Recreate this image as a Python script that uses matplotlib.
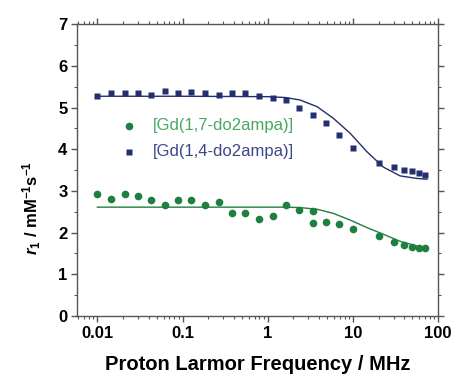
import matplotlib.pyplot as plt
import matplotlib.ticker as ticker

plt.rcParams['font.family'] = ['Liberation Sans', 'DejaVu Sans']
plt.rcParams['mathtext.fontset'] = 'custom'
plt.rcParams['mathtext.rm'] = 'Liberation Sans:bold'
plt.rcParams['mathtext.bf'] = 'Liberation Sans:bold'
plt.rcParams['mathtext.it'] = 'Liberation Sans:italic:bold'

# measured points (MHz)
freq = [0.01, 0.0146, 0.021, 0.030, 0.043, 0.062, 0.088, 0.127, 0.182, 0.265,
        0.38, 0.54, 0.80, 1.14, 1.63, 2.36, 3.39, 4.85, 6.95, 10.1,
        20, 30, 40, 50, 60, 70]

r1_14 = [5.28, 5.36, 5.35, 5.35, 5.29, 5.40, 5.35, 5.38, 5.35, 5.30,
         5.35, 5.34, 5.27, 5.24, 5.18, 4.99, 4.82, 4.64, 4.33, 4.04,
         3.66, 3.57, 3.50, 3.48, 3.44, 3.37]

freq_17 = [0.01, 0.0146, 0.021, 0.030, 0.043, 0.062, 0.088, 0.127, 0.182, 0.265,
           0.38, 0.54, 0.80, 1.14, 1.63, 2.36, 3.39, 3.39, 4.85, 6.95, 10.1,
           20, 30, 40, 50, 60, 70]
r1_17 = [2.92, 2.81, 2.93, 2.87, 2.78, 2.65, 2.79, 2.79, 2.65, 2.73,
         2.48, 2.46, 2.33, 2.40, 2.65, 2.55, 2.51, 2.23, 2.25, 2.21, 2.08,
         1.92, 1.78, 1.71, 1.65, 1.64, 1.62]

# fitted curves
fit_f = [0.01, 0.1, 1.0, 1.6, 2.4, 3.8, 5.9, 9.3, 14.6, 22.8, 35.8, 56, 74]
fit_14 = [5.27, 5.27, 5.26, 5.24, 5.18, 5.02, 4.74, 4.38, 3.94, 3.57, 3.36, 3.30, 3.28]
fit_17 = [2.61, 2.61, 2.61, 2.61, 2.60, 2.56, 2.46, 2.30, 2.12, 1.96, 1.79, 1.68, 1.64]

labels = ['[Gd(1,7-do2ampa)]', '[Gd(1,4-do2ampa)]']

green = '#1f7f3f'
blue = '#232f6e'

fig = plt.figure(figsize=(4.54, 3.83), dpi=100)
ax = fig.add_axes([0.170, 0.175, 0.795, 0.762])

ax.plot(fit_f, fit_17, color=green, lw=1.0)
ax.plot(fit_f, fit_14, color=blue, lw=1.0)
ax.plot(freq_17, r1_17, 'o', color=green, ms=5.5, mec='none')
ax.plot(freq, r1_14, 's', color=blue, ms=4.5, mec='none')

ax.set_xscale('log')
ax.set_xlim(0.0058, 100)
ax.set_ylim(0, 7)
ax.xaxis.set_major_formatter(ticker.FuncFormatter(lambda v, p: '%g' % v))
ax.yaxis.set_major_locator(ticker.MultipleLocator(1))
ax.yaxis.set_minor_locator(ticker.MultipleLocator(0.5))
ax.xaxis.set_minor_locator(ticker.LogLocator(subs=range(2, 10)))
ax.xaxis.set_minor_formatter(ticker.NullFormatter())

for s in ax.spines.values():
    s.set_color('#555555')
    s.set_linewidth(1.0)
ax.tick_params(which='both', color='#555555', labelsize=12, top=True, right=True, pad=3)
ax.tick_params(which='major', length=4, width=1)
ax.tick_params(which='minor', length=2.5, width=0.8)
for lab in ax.get_xticklabels() + ax.get_yticklabels():
    lab.set_fontweight('bold')

ax.set_xlabel('Proton Larmor Frequency / MHz', fontsize=14.5, fontweight='bold', labelpad=10)
ax.set_ylabel(r'$\mathit{r}_{1}$ / mM$^{-1}$s$^{-1}$', fontsize=12, fontweight='bold')
ax.yaxis.set_label_coords(-0.095, 0.37)

# legend drawn as in the original (markers + colored text)
ax.plot([0.0237], [4.56], 'o', color=green, ms=5.5, mec='none')
ax.plot([0.0237], [3.94], 's', color=blue, ms=4.5, mec='none')
ax.text(0.0454, 4.56, labels[0], color='#48a862', fontsize=12, va='center')
ax.text(0.0454, 3.94, labels[1], color='#3c4888', fontsize=12, va='center')

fig.savefig('out.png', dpi=100)
